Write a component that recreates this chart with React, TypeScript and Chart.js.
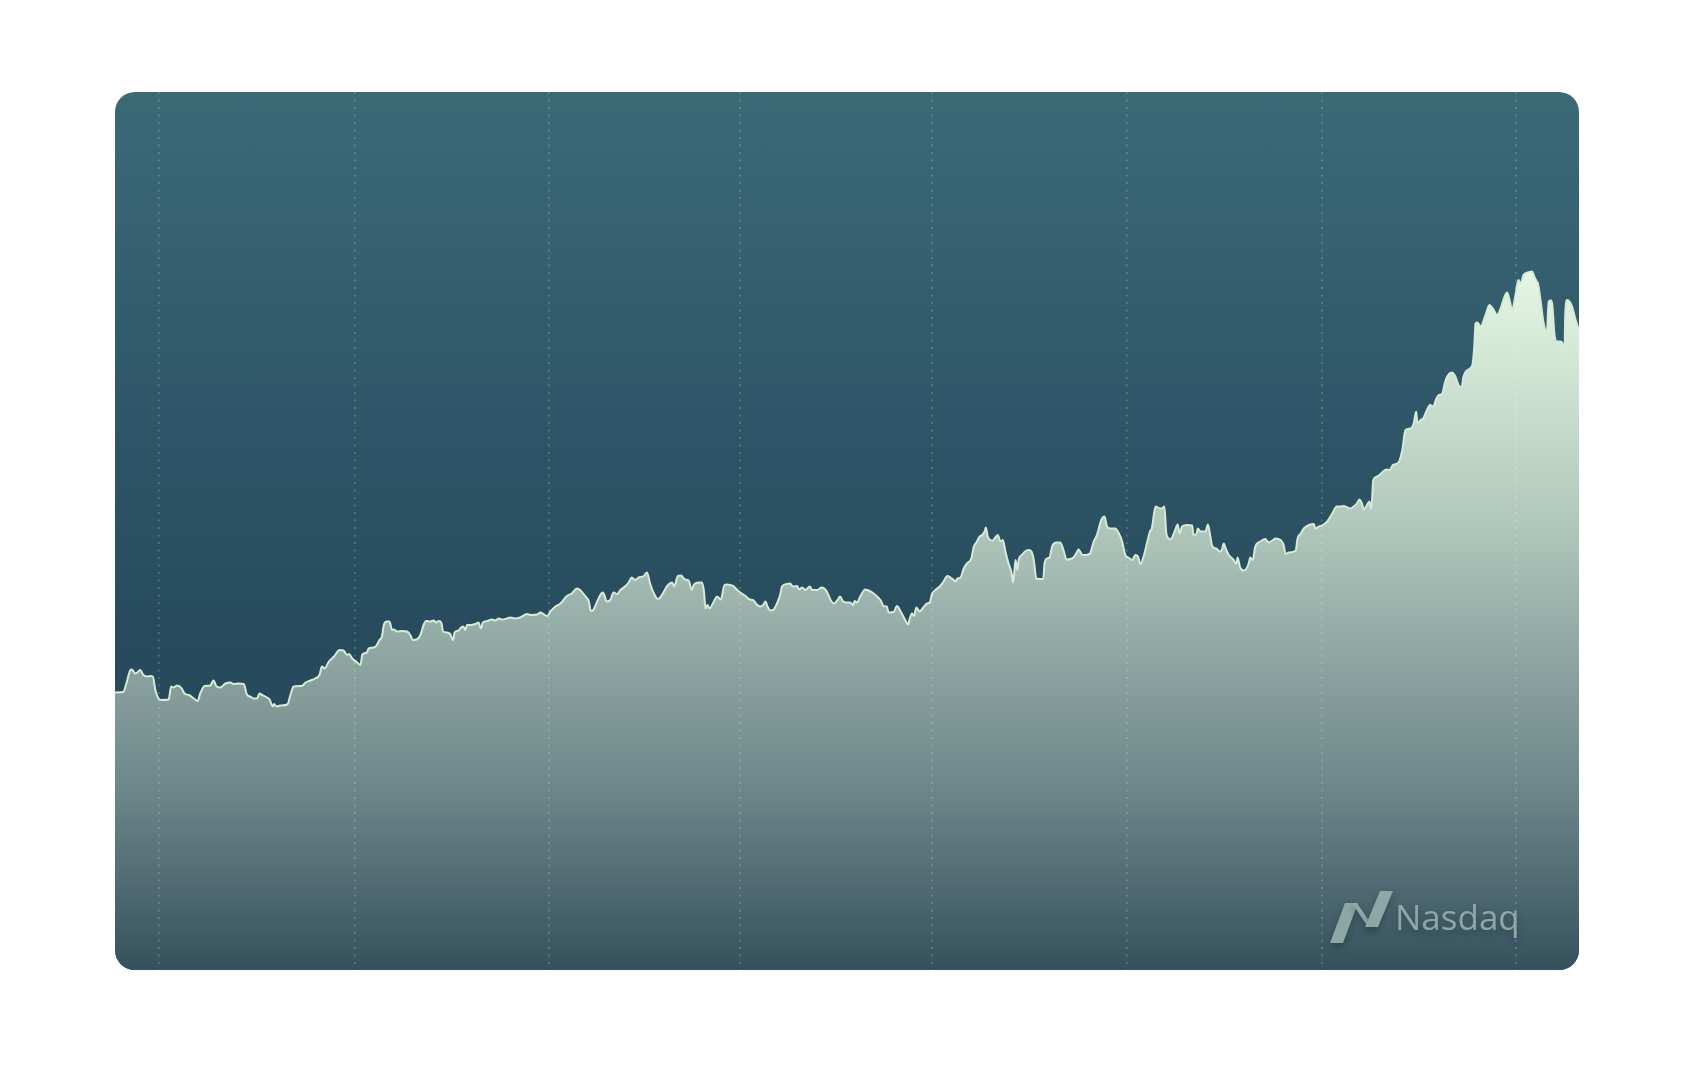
import React, { useEffect, useRef } from "react";
import { Chart, registerables } from "chart.js";

Chart.register(...registerables);

// Trading day offsets (x) and closing prices (y)
const days = [
  0, 1.3, 1.8, 2.4, 2.7, 3.2, 3.5, 4.0, 4.5, 5.1, 5.6, 6.0, 6.4, 6.9, 7.4, 8.5, 8.9, 9.3, 9.8, 10.6,
  11.0, 11.7, 12.5, 13.1, 13.5, 14.2, 15.1, 15.6, 16.1, 16.7, 17.5, 18.3, 18.8, 19.6, 20.4, 20.9, 21.4, 22.0, 22.5, 22.9,
  23.3, 23.8, 24.5, 25.0, 25.2, 25.6, 26.2, 27.3, 27.8, 28.3, 29.6, 30.2, 31.0, 31.7, 32.4, 32.8, 33.2, 33.9, 34.7, 35.6,
  36.2, 36.8, 37.1, 37.6, 38.2, 38.9, 39.2, 39.9, 40.2, 41.0, 41.5, 41.9, 42.3, 42.6, 43.1, 43.5, 43.9, 44.2, 44.7, 45.5,
  46.3, 46.8, 47.2, 47.8, 48.4, 48.9, 49.3, 50.0, 50.5, 50.9, 51.3, 51.7, 52.0, 52.6, 53.1, 53.6, 53.8, 54.5, 54.7, 55.2,
  55.5, 55.8, 56.3, 57.1, 57.6, 58.0, 58.3, 59.0, 59.7, 60.3, 60.8, 61.3, 62.1, 62.7, 63.4, 64.2, 65.3, 65.9, 66.9,
  67.4, 68.5, 69.0, 69.8, 70.6, 71.6, 72.4, 73.2, 73.7, 74.5, 75.1, 75.4, 75.8, 76.4, 77.0, 77.3, 77.6, 77.9, 78.5, 79.0,
  79.6, 80.1, 80.9, 81.4, 81.9, 82.4, 83.0, 83.8, 84.3, 84.8, 85.4, 86.0, 86.4, 87.0, 87.5, 88.3, 88.6, 89.2, 89.7, 90.3,
  90.9, 91.4, 91.7, 92.5, 93.0, 93.3, 93.6, 93.9, 94.2, 94.9, 95.4, 96.0, 96.6, 97.0, 97.5, 98.0, 98.6, 99.1, 99.9, 100.6,
  101.1, 101.7, 102.3, 102.7, 103.1, 103.4, 103.9, 104.4, 104.9, 105.4, 105.7, 106.4, 107.0, 107.4, 108.1, 108.4, 108.9, 109.4, 110.1, 110.5,
  111.3, 112.0, 112.8, 113.4, 113.9, 114.5, 114.9, 115.4, 116.0, 116.5, 117.0, 117.2, 117.6, 118.1, 118.9, 119.4, 120.0, 120.5, 121.3, 121.8,
  122.3, 122.6, 123.4, 123.9, 124.5, 125.1, 125.7, 125.9, 126.3, 126.6, 127.0, 127.5, 128.2, 128.7, 129.1, 129.5, 130.0, 130.7, 131.3, 131.9,
  132.4, 132.9, 133.2, 133.5, 134.0, 134.5, 135.0, 135.7, 136.1, 136.6, 136.9, 137.4, 137.8, 138.0, 138.3, 138.7, 139.1, 139.5, 139.9, 140.3,
  140.7, 141.1, 141.6, 142.1, 142.3, 142.5, 142.7, 143.0, 143.2, 143.7, 144.4, 144.8, 145.3, 145.6, 146.0, 146.6, 147.1, 147.3, 147.7, 148.1,
  148.5, 149.2, 149.8, 150.3, 150.8, 151.4, 151.9, 152.4, 152.7, 153.3, 153.9, 154.5, 155.1, 155.6, 156.3, 156.8, 157.2, 157.7, 158.5, 159.1,
  159.6, 160.1, 160.6, 161.2, 161.7, 162.1, 162.5, 163.0, 163.6, 164.0, 164.3, 164.9, 165.7, 166.1, 166.3, 166.6, 167.0, 167.3, 167.7, 168.0,
  168.4, 168.7, 169.1, 169.9, 170.7, 170.9, 171.4, 171.6, 172.0, 172.8, 173.2, 173.5, 173.9, 174.5, 175.1, 175.4, 175.7, 176.1, 176.5, 177.2,
  177.7, 177.9, 178.3, 178.9, 179.3, 179.7, 179.9, 180.3, 180.7, 181.5, 182.3, 182.8, 183.4, 183.9, 184.7, 185.2, 185.5, 186.0, 187.1, 187.4,
  187.9, 188.4, 189.2, 190.0, 190.2, 190.8, 191.4, 192.1, 192.9, 193.6, 194.2, 194.7, 195.3, 195.8,
  196.3, 196.8, 197.2, 197.6, 197.9, 198.4, 198.8, 199.1, 199.4, 200.0, 200.8, 201.5, 202.0, 202.5, 203.2, 203.6, 204.0, 204.5, 205.3, 205.8,
  206.2, 206.4, 206.9, 207.3, 207.8, 208.4, 208.9, 209.4, 209.8, 210.3, 210.8, 211.4, 211.9, 212.4, 212.9, 213.4, 213.7, 214.3, 215.1, 215.4,
  215.6, 215.9, 216.4, 217.2, 217.8, 218.5, 219.0, 219.5, 220.1, 220.6, 221.0, 221.4, 221.9, 222.4, 222.8, 223.2, 223.9, 224.6, 224.9, 225.3,
  225.5, 225.9, 226.4, 226.9, 227.2, 227.6, 227.8, 228.1, 228.4, 229.1, 229.4, 229.7, 229.8, 230.1, 230.5, 230.9, 231.4, 232.0,
];

const prices = [
  95.5, 95.6, 97.3, 99.9, 100.1, 99.3, 99.5, 100.0, 99.0, 98.7, 98.8, 98.7, 96.0, 94.3, 94.0, 94.1, 96.7, 96.5, 96.9, 96.3,
  95.3, 95.0, 94.3, 93.8, 95.3, 96.8, 96.9, 97.9, 96.7, 96.5, 97.3, 97.5, 97.2, 97.3, 97.2, 95.1, 94.7, 94.3, 94.3, 95.3,
  95.0, 94.7, 94.1, 92.7, 93.2, 92.7, 92.9, 93.1, 95.0, 96.7, 96.8, 97.5, 97.9, 98.3, 99.0, 100.7, 100.3, 101.7, 102.7, 104.0,
  103.9, 103.0, 103.2, 102.3, 101.7, 101.0, 103.1, 103.5, 104.3, 104.5, 105.0, 106.0, 106.7, 109.0, 109.7, 109.7, 108.0, 108.1, 107.7, 107.8,
  107.7, 107.0, 106.0, 106.1, 107.0, 109.0, 109.8, 109.7, 109.9, 109.5, 109.8, 109.5, 107.7, 107.5, 107.2, 106.0, 107.5, 107.9, 108.3, 108.7,
  108.0, 109.0, 109.0, 109.2, 109.5, 108.3, 109.5, 109.8, 110.1, 109.9, 110.3, 110.1, 110.3, 110.5, 110.3, 110.5, 111.2, 111.0, 111.1,
  111.5, 110.8, 111.7, 112.7, 113.3, 114.8, 115.3, 116.3, 116.0, 114.8, 113.7, 111.8, 112.0, 113.7, 115.2, 115.5, 114.8, 113.7, 114.0, 115.5,
  115.2, 116.0, 116.8, 117.5, 118.5, 118.0, 118.5, 118.8, 119.5, 117.3, 115.3, 114.2, 114.5, 115.7, 116.8, 117.5, 116.7, 118.8, 118.9, 118.1,
  117.9, 116.0, 117.0, 117.5, 117.5, 116.0, 112.3, 113.0, 112.3, 113.7, 114.7, 114.1, 117.0, 117.1, 117.0, 116.8, 116.0, 115.5, 114.8, 114.1,
  114.0, 113.1, 112.7, 113.0, 113.7, 112.7, 111.9, 112.1, 113.3, 115.0, 116.7, 117.2, 117.3, 116.7, 116.8, 116.1, 116.5, 116.0, 116.7, 116.0,
  116.0, 116.5, 115.7, 114.0, 113.3, 114.0, 114.7, 113.7, 113.5, 113.5, 113.0, 113.8, 113.5, 114.7, 116.1, 115.9, 115.5, 115.0, 114.0, 112.8,
  112.7, 111.5, 111.6, 112.8, 111.7, 110.3, 109.1, 110.1, 111.3, 110.8, 112.5, 111.7, 112.7, 113.3, 113.5, 115.3, 116.0, 116.7, 117.7, 118.8,
  118.5, 118.0, 117.7, 118.3, 118.5, 120.3, 121.3, 122.3, 124.7, 125.7, 126.5, 127.0, 127.7, 128.5, 126.7, 126.0, 125.9, 126.5, 127.0, 125.7,
  126.0, 123.7, 121.3, 119.3, 117.5, 119.3, 122.0, 120.0, 122.0, 123.0, 123.9, 124.0, 123.5, 122.0, 118.3, 118.2, 118.2, 121.3, 122.3, 122.5,
  124.7, 125.5, 125.5, 124.0, 122.1, 122.2, 122.5, 123.5, 124.1, 123.0, 123.0, 123.3, 125.7, 127.0, 130.0, 130.7, 128.7, 128.3, 128.3, 127.3,
  125.7, 123.0, 122.5, 122.0, 123.0, 122.7, 121.2, 122.7, 125.7, 127.7, 128.3, 132.7, 132.3, 132.5, 132.7, 127.3, 126.3, 126.1, 127.0, 128.0,
  129.1, 127.3, 128.7, 129.0, 128.9, 127.0, 127.3, 128.3, 127.7, 127.7, 129.1, 127.3, 124.7, 124.3, 123.7, 124.0, 125.3, 124.0, 123.0, 122.1,
  121.3, 122.5, 120.5, 119.9, 120.3, 121.5, 122.5, 122.0, 124.7, 125.7, 126.2, 125.5, 125.9, 126.3, 126.0, 125.0, 123.2, 123.5, 123.9, 126.3,
  127.3, 128.3, 129.0, 129.2, 128.3, 128.7, 129.0, 129.7, 131.3, 132.7, 132.7, 132.8, 132.5, 132.3,
  132.7, 133.3, 134.1, 133.3, 132.1, 133.0, 133.7, 132.3, 138.0, 138.7, 139.5, 140.1, 140.0, 141.0, 141.3, 142.0, 144.0, 148.0, 148.3, 149.3,
  151.7, 149.3, 150.0, 150.3, 151.7, 153.0, 152.7, 154.3, 155.0, 155.2, 157.7, 159.2, 159.5, 158.7, 157.0, 156.5, 158.7, 160.0, 161.0, 164.7,
  169.3, 169.5, 168.7, 171.0, 173.0, 172.0, 171.0, 172.0, 174.3, 175.5, 174.0, 172.0, 174.7, 178.0, 177.3, 179.0, 179.5, 179.7, 178.7, 177.7,
  177.3, 174.0, 169.3, 167.5, 173.7, 173.9, 172.7, 167.3, 165.7, 165.7, 165.3, 162.7, 170.3, 174.0, 173.7, 172.7, 170.3, 167.9,
];

// Month boundaries (dotted vertical grid lines), in day offsets
const monthTicks = [7, 38, 68.7, 99, 129.5, 160.4, 191.3, 222];
const xRange = [0, 232];
const yRange = [40, 215.6];
const brandName = "Nasdaq";

export default function App() {
  const canvasRef = useRef<HTMLCanvasElement>(null);

  useEffect(() => {
    const canvas = canvasRef.current;
    if (!canvas) return;

    const logoPlugin = {
      id: "brandLogo",
      afterDraw(chart: any) {
        const { ctx, chartArea: a } = chart;
        const ox = a.left;
        const oy = a.top;
        ctx.save();
        ctx.shadowColor = "rgba(15,35,45,0.35)";
        ctx.shadowBlur = 7;
        ctx.shadowOffsetY = 4;
        ctx.fillStyle = "#8da7a5";
        const poly = (pts: number[][]) => {
          ctx.beginPath();
          pts.forEach(([x, y], i) => (i ? ctx.lineTo(ox + x, oy + y) : ctx.moveTo(ox + x, oy + y)));
          ctx.closePath();
          ctx.fill();
        };
        // logo mark
        poly([[1215, 851], [1228, 851], [1243, 811], [1230, 811]]);
        poly([[1237, 811], [1242, 811], [1258, 835], [1253, 835]]);
        poly([[1250, 835], [1263, 835], [1278, 799], [1265, 799]]);
        // wordmark
        ctx.font = "35px 'Open Sans'";
        ctx.textBaseline = "alphabetic";
        ctx.fillText(brandName, ox + 1280, oy + 838);
        ctx.restore();
      },
    };

    const chart = new Chart(canvas, {
      type: "line",
      data: {
        datasets: [
          {
            data: days.map((d, i) => ({ x: d, y: prices[i] })),
            borderColor: "#d6ead6",
            borderWidth: 2,
            pointRadius: 0,
            cubicInterpolationMode: "monotone",
            fill: "start",
            backgroundColor: (c: any) => {
              const ch = c.chart;
              const { ctx, chartArea, scales } = ch;
              if (!chartArea) return "rgba(0,0,0,0)";
              const top = scales.y.getPixelForValue(Math.max(...prices));
              const g = ctx.createLinearGradient(0, top, 0, chartArea.bottom);
              g.addColorStop(0, "#e4f7e3");
              g.addColorStop(0.35, "#b2c9bd");
              g.addColorStop(0.5, "#97afa9");
              g.addColorStop(0.75, "#6b8588");
              g.addColorStop(1, "#35515d");
              return g;
            },
          },
        ],
      },
      options: {
        animation: false,
        responsive: true,
        maintainAspectRatio: false,
        layout: { padding: 0 },
        plugins: { legend: { display: false }, tooltip: { enabled: false } },
        scales: {
          x: {
            type: "linear",
            min: xRange[0],
            max: xRange[1],
            afterBuildTicks: (scale: any) => {
              scale.ticks = monthTicks.map((v) => ({ value: v }));
            },
            ticks: { display: false },
            grid: {
              z: 1,
              drawTicks: false,
              color: "rgba(255,255,255,0.22)",
              lineWidth: 1.6,
            },
            border: { display: false, dash: [2, 5.5] },
          },
          y: {
            display: false,
            min: yRange[0],
            max: yRange[1],
          },
        },
      },
      plugins: [logoPlugin],
    });

    return () => chart.destroy();
  }, []);

  return (
    <div
      style={{
        position: "absolute",
        left: 115,
        top: 92,
        width: 1464,
        height: 878,
        borderRadius: 20,
        overflow: "hidden",
        background: "linear-gradient(180deg, #3b6a77 0%, #2f5769 35%, #274b5d 62%, #25485a 100%)",
      }}
    >
      <canvas ref={canvasRef} />
    </div>
  );
}
